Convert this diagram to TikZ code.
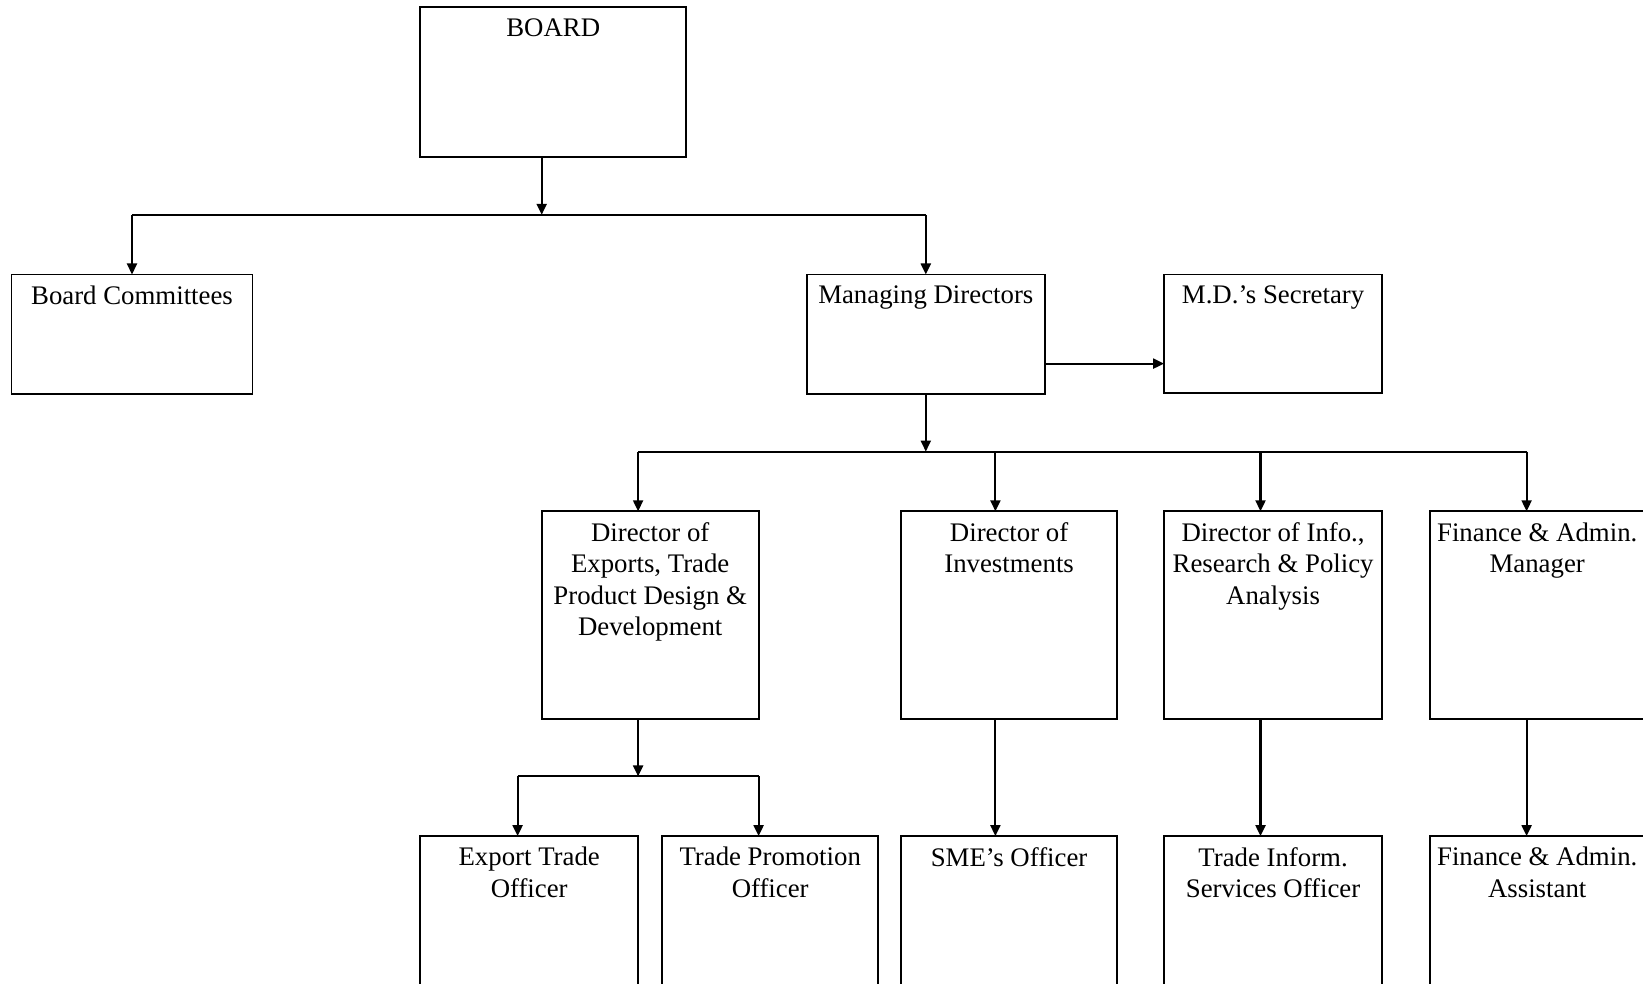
\documentclass[tikz,border=0pt]{standalone}
\usepackage{fontspec}
\setmainfont{Liberation Serif}
\usetikzlibrary{arrows.meta}
\begin{document}
\begin{tikzpicture}[x=1pt,y=-1pt,
  box/.style={draw, line width=1.9pt, anchor=north west, inner sep=0pt, outer sep=0pt},
  lbl/.style={anchor=north, yshift=-11pt, inner sep=0pt, align=center,
    font=\fontsize{26.8pt}{31.4pt}\selectfont},
  conn/.style={line width=2.1pt},
  arr/.style={line width=2.1pt, -{Triangle[length=11pt,width=10pt]}}]
\useasboundingbox (0,0) rectangle (1643,984);
\clip (0,0) rectangle (1643,984);
% boxes
\node[box, minimum width=266pt, minimum height=150pt, label={[lbl]north:{BOARD}}] (board) at (420.2,7.3) {};
\node[box, minimum width=241pt, minimum height=119.5pt, label={[lbl]north:{Board Committees}}] (bc) at (11.5,274.5) {};
\node[box, minimum width=238pt, minimum height=119.5pt, label={[lbl]north:{Managing Directors}}] (md) at (806.8,274.5) {};
\node[box, minimum width=218pt, minimum height=118.5pt, label={[lbl]north:{M.D.’s Secretary}}] (sec) at (1164.1,274.5) {};
\node[box, minimum width=217pt, minimum height=207.5pt, label={[lbl]north:{Director of\\Exports, Trade\\Product Design \&\\Development}}] (dexp) at (541.7,511.3) {};
\node[box, minimum width=216pt, minimum height=207.5pt, label={[lbl]north:{Director of\\Investments}}] (dinv) at (901.1,511.3) {};
\node[box, minimum width=218pt, minimum height=207.5pt, label={[lbl]north:{Director of Info.,\\Research \& Policy\\Analysis}}] (dinf) at (1164.1,511.3) {};
\node[box, minimum width=214pt, minimum height=207.5pt, label={[lbl]north:{Finance \& Admin.\\Manager}}] (fam) at (1430.2,511.3) {};
\node[box, minimum width=218pt, minimum height=200pt, label={[lbl]north:{Export Trade\\Officer}}] (eto) at (420.2,836.1) {};
\node[box, minimum width=216pt, minimum height=200pt, label={[lbl]north:{Trade Promotion\\Officer}}] (tpo) at (662.2,836.1) {};
\node[box, minimum width=216pt, minimum height=200pt, label={[lbl]north:{SME’s Officer}}] (sme) at (901.1,836.1) {};
\node[box, minimum width=218pt, minimum height=200pt, label={[lbl]north:{Trade Inform.\\Services Officer}}] (tis) at (1164.1,836.1) {};
\node[box, minimum width=214pt, minimum height=200pt, label={[lbl]north:{Finance \& Admin.\\Assistant}}] (faa) at (1430.2,836.1) {};
% junctions
\coordinate (j1) at (541.7,214.8);
\coordinate (mdy) at (0,363.6);
\coordinate (a1) at (638.1,451.6);
\coordinate (a2) at (995.4,451.6);
\coordinate (a3) at (1260.5,451.6);
\coordinate (a4) at (1526.6,451.6);
\coordinate (j3) at (638.1,776.4);
\coordinate (b1) at (517.6,776.4);
\coordinate (b2) at (758.6,776.4);
% connectors
\draw[arr] (j1 |- board.south) -- (j1);
\draw[conn] (bc.north |- j1) -- (md.north |- j1);
\draw[arr] (bc.north |- j1) -- (bc.north);
\draw[arr] (md.north |- j1) -- (md.north);
\draw[arr] (md.east |- mdy) -- (sec.west |- mdy);
\draw[arr] (md.south) -- (md.south |- a1);
\draw[conn] (a1) -- (a4);
\draw[arr] (a1) -- (a1 |- dexp.north);
\draw[arr] (a2) -- (a2 |- dinv.north);
\draw[arr] (a3) -- (a3 |- dinf.north);
\draw[arr] (a4) -- (a4 |- fam.north);
\draw[arr] (a1 |- dexp.south) -- (j3);
\draw[conn] (b1) -- (b2);
\draw[arr] (b1) -- (b1 |- eto.north);
\draw[arr] (b2) -- (b2 |- tpo.north);
\draw[arr] (a2 |- dinv.south) -- (a2 |- sme.north);
\draw[arr] (a3 |- dinf.south) -- (a3 |- tis.north);
\draw[arr] (a4 |- fam.south) -- (a4 |- faa.north);
\end{tikzpicture}
\end{document}
